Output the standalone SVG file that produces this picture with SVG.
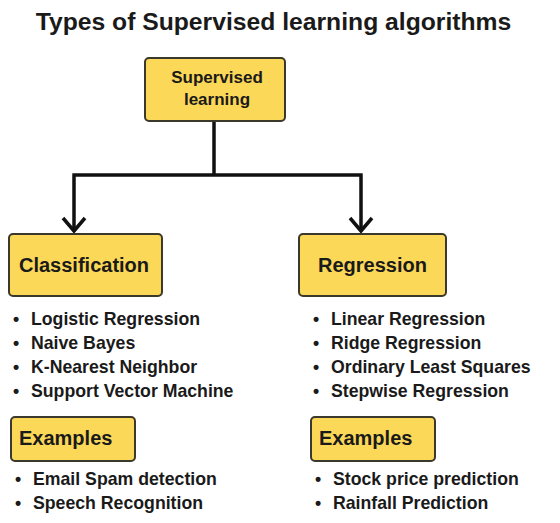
<svg xmlns="http://www.w3.org/2000/svg" width="560" height="523" viewBox="0 0 560 523">
<style>
text{font-family:"Liberation Sans",Arial,sans-serif;font-weight:bold;fill:#1a1a1a}
.box{fill:#FCD858;stroke:#3b382c;stroke-width:2}
.title{font-size:24.7px}
.h{font-size:20px}
.li{font-size:17.7px}
.conn{fill:none;stroke:#111;stroke-width:3.5;stroke-linecap:butt;stroke-linejoin:miter}
</style>
<rect width="560" height="523" fill="#fff"/>
<text class="title" x="273.5" y="30" text-anchor="middle">Types of Supervised learning algorithms</text>
<g id="connectors">
<path class="conn" d="M214 121V175M72.3 175H362.7M74 175V231M361 175V231"/>
<path class="conn" d="M63 218L74 231L85 218M350 218L361 231L372 218"/>
</g>
<g id="supervised">
<rect class="box" x="145" y="58" width="140" height="63" rx="4"/>
<text x="217" y="83" text-anchor="middle" style="font-size:17px">Supervised</text>
<text x="217" y="105" text-anchor="middle" style="font-size:17px">learning</text>
</g>
<g id="classification">
<rect class="box" x="9" y="234" width="153" height="62" rx="4"/>
<text class="h" x="19" y="272">Classification</text>
</g>
<g id="regression">
<rect class="box" x="299" y="234" width="147" height="62" rx="4"/>
<text class="h" x="318" y="272">Regression</text>
</g>
<g id="classification-list" class="li">
<text class="li" x="13" y="325">•</text><text class="li" x="31" y="325">Logistic Regression</text>
<text class="li" x="13" y="349">•</text><text class="li" x="31" y="349">Naive Bayes</text>
<text class="li" x="13" y="373">•</text><text class="li" x="31" y="373">K-Nearest Neighbor</text>
<text class="li" x="13" y="397">•</text><text class="li" x="31" y="397">Support Vector Machine</text>
</g>
<g id="regression-list">
<text class="li" x="313" y="325">•</text><text class="li" x="331" y="325">Linear Regression</text>
<text class="li" x="313" y="349">•</text><text class="li" x="331" y="349">Ridge Regression</text>
<text class="li" x="313" y="373">•</text><text class="li" x="331" y="373">Ordinary Least Squares</text>
<text class="li" x="313" y="397">•</text><text class="li" x="331" y="397">Stepwise Regression</text>
</g>
<g id="examples-left">
<rect class="box" x="11" y="417" width="124" height="44" rx="4"/>
<text class="h" x="19" y="445">Examples</text>
</g>
<g id="examples-right">
<rect class="box" x="311" y="417" width="124" height="44" rx="4"/>
<text class="h" x="319" y="445">Examples</text>
</g>
<g id="examples-left-list">
<text class="li" x="15" y="485">•</text><text class="li" x="33" y="485">Email Spam detection</text>
<text class="li" x="15" y="509">•</text><text class="li" x="33" y="509">Speech Recognition</text>
</g>
<g id="examples-right-list">
<text class="li" x="315" y="485">•</text><text class="li" x="333" y="485">Stock price prediction</text>
<text class="li" x="315" y="509">•</text><text class="li" x="333" y="509">Rainfall Prediction</text>
</g>
</svg>
